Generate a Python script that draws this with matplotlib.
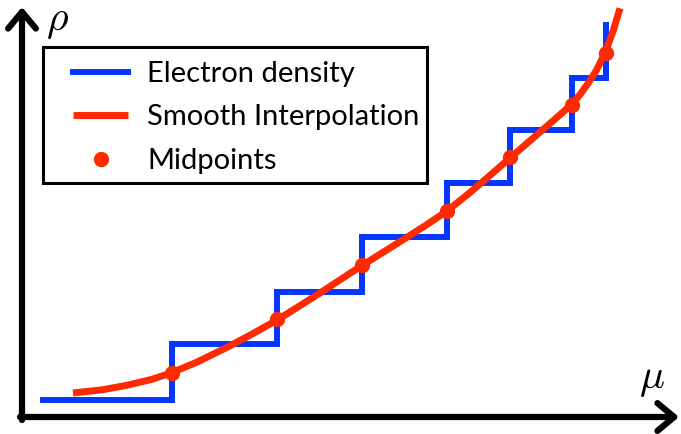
import matplotlib
matplotlib.use("Agg")
import matplotlib.pyplot as plt
from matplotlib.patches import Rectangle

# step function: rise positions and levels (arbitrary units)
step_mu = [0.21, 1.50, 2.55, 3.40, 4.25, 4.88, 5.50, 5.84]
step_rho = [0.17, 0.73, 1.25, 1.80, 2.34, 2.87, 3.39, 3.92]

# midpoints of each rise
mid_mu = [1.50, 2.55, 3.40, 4.25, 4.88, 5.50, 5.84]
mid_rho = [0.44, 0.98, 1.52, 2.06, 2.60, 3.12, 3.64]

# smooth curve
curve_mu = [0.51, 0.80, 1.05, 1.30, 1.49, 1.75, 2.05, 2.30, 2.56, 2.98, 3.40,
            3.83, 4.05, 4.25, 4.45, 4.65, 4.88, 5.10, 5.28, 5.49, 5.58, 5.66,
            5.74, 5.83, 5.91, 5.98]
curve_rho = [0.24, 0.272, 0.317, 0.377, 0.44, 0.549, 0.696, 0.829, 0.975, 1.24, 1.515,
             1.785, 1.925, 2.06, 2.22, 2.39, 2.59, 2.78, 2.935, 3.12, 3.224, 3.336,
             3.46, 3.64, 3.856, 4.087]

blue = "#0536ff"
red = "#ff2a00"

plt.rcParams["mathtext.fontset"] = "cm"

fig = plt.figure(figsize=(6.81, 4.34), dpi=100)
ax = fig.add_axes([0, 0, 1, 1])
ax.set_xlim(-0.22, 6.59)
ax.set_ylim(-0.17, 4.17)
ax.axis("off")

ax.step(step_mu, step_rho, where="post", color=blue, lw=4.3, label="Electron density",
        solid_joinstyle="miter")
ax.plot(curve_mu, curve_rho, color=red, lw=5, label="Smooth Interpolation",
        solid_capstyle="butt", solid_joinstyle="round")
ax.plot(mid_mu, mid_rho, "o", color=red, ms=10, label="Midpoints")

# axes as arrows
arrow = dict(arrowstyle="->,head_length=0.6,head_width=0.5", lw=4.5, color="black",
             mutation_scale=20, shrinkA=0, shrinkB=0)
ax.annotate("", xy=(6.57, 0), xytext=(-0.02, 0), arrowprops=arrow)
ax.annotate("", xy=(0, 4.10), xytext=(0, -0.03), arrowprops=arrow)

ax.text(0.35, 3.97, r"$\rho$", fontsize=30, ha="center", va="center")
ax.text(6.30, 0.39, r"$\mu$", fontsize=30, ha="center", va="center")

# legend without its own frame; box drawn separately
W, H = 681, 434
leg = ax.legend(loc="upper left", bbox_to_anchor=(73 / W, 1 - 61 / H),
                bbox_transform=fig.transFigure, borderaxespad=0, borderpad=0,
                prop={"family": "Lato", "size": 21}, frameon=False,
                handlelength=1.9, handletextpad=0.65, labelspacing=0.6,
                numpoints=1)
fig.patches.append(Rectangle((43 / W, 1 - 183 / H), 384 / W, 136 / H,
                             transform=fig.transFigure, fill=False,
                             edgecolor="black", lw=2.2, zorder=5))

fig.savefig("out.png", dpi=100)
